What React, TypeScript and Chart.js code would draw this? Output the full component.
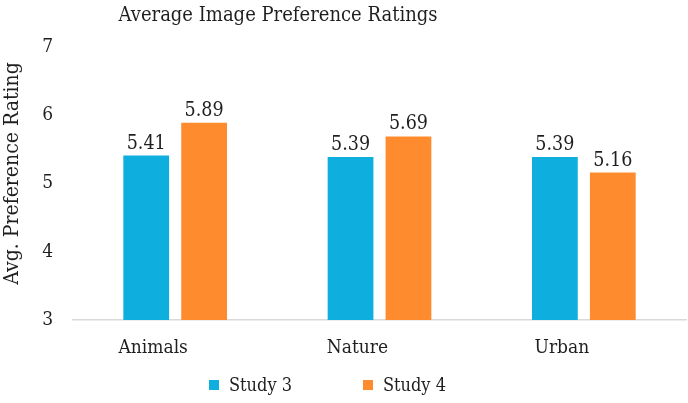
import React, { useEffect, useRef } from "react";
import { Chart, registerables } from "chart.js";

Chart.register(...registerables);

const TITLE = "Average Image Preference Ratings";
const Y_TITLE = "Avg. Preference Rating";
const categories = ["Animals", "Nature", "Urban"];
const study3 = [5.41, 5.39, 5.39];
const study4 = [5.89, 5.69, 5.16];
const seriesLabels = ["Study 3", "Study 4"];
const seriesColors = ["#0EAFDF", "#FE8B2D"];
const Y_MIN = 3;
const Y_MAX = 7;

const FONT = "'DejaVu Serif Condensed', 'Liberation Serif', serif";
const TEXT = "#1f1f1f";

const overlayPlugin = {
  id: "overlay",
  afterDatasetsDraw(chart: any) {
    const ctx = chart.ctx;
    ctx.save();
    // data labels
    ctx.fillStyle = TEXT;
    ctx.textAlign = "center";
    ctx.textBaseline = "alphabetic";
    chart.data.datasets.forEach((ds: any, di: number) => {
      const meta = chart.getDatasetMeta(di);
      meta.data.forEach((bar: any, i: number) => {
        ctx.font = `19.5px ${FONT}`;
        ctx.fillText(Number(ds.data[i]).toFixed(2), bar.x, bar.y - 7);
      });
    });
    // title
    ctx.font = `20px ${FONT}`;
    ctx.textAlign = "center";
    ctx.fillText(TITLE, 278, 21);
    // legend
    ctx.textAlign = "left";
    ctx.textBaseline = "middle";
    let x = 209;
    const y = 385;
    chart.data.datasets.forEach((ds: any) => {
      ctx.fillStyle = ds.backgroundColor;
      ctx.fillRect(x, y - 5, 10, 10);
      ctx.fillStyle = TEXT;
      ctx.font = `18px ${FONT}`;
      ctx.fillText(ds.label, x + 20, y + 1);
      x += 20 + ctx.measureText(ds.label).width + 71;
    });
    // y-axis title
    const area = chart.chartArea;
    ctx.save();
    ctx.translate(13, (area.top + area.bottom) / 2 - 10);
    ctx.rotate(-Math.PI / 2);
    ctx.textAlign = "center";
    ctx.textBaseline = "middle";
    ctx.font = `21px ${FONT}`;
    ctx.fillStyle = TEXT;
    ctx.fillText(Y_TITLE, 0, 0);
    ctx.restore();
    ctx.restore();
  },
};

export default function App() {
  const ref = useRef<HTMLCanvasElement>(null);
  useEffect(() => {
    document.body.style.margin = "0";
    const chart = new Chart(ref.current!, {
      type: "bar",
      data: {
        labels: categories,
        datasets: [
          { label: seriesLabels[0], data: study3, backgroundColor: seriesColors[0] },
          { label: seriesLabels[1], data: study4, backgroundColor: seriesColors[1] },
        ],
      },
      options: {
        animation: false,
        responsive: false,
        devicePixelRatio: 1,
        layout: { padding: { top: 47, right: 2, left: 0, bottom: 0 } },
        datasets: { bar: { categoryPercentage: 0.567, barPercentage: 0.79 } },
        plugins: {
          legend: { display: false },
          title: { display: false },
          tooltip: { enabled: false },
        },
        scales: {
          x: {
            grid: { display: false, drawTicks: false },
            border: { display: true, color: "#D9D9D9", width: 1.5 },
            ticks: { font: { family: FONT, size: 19 }, color: TEXT, padding: 17, labelOffset: -22 },
            afterFit(scale: any) {
              scale.height = 83;
            },
          },
          y: {
            min: Y_MIN,
            max: Y_MAX,
            grid: { display: false, drawTicks: false },
            border: { display: false },
            ticks: { stepSize: 1, font: { family: FONT, size: 19 }, color: TEXT, padding: 20 },
            title: { display: false },
            afterFit(scale: any) {
              scale.width = 73;
            },
          },
        },
      },
      plugins: [overlayPlugin],
    });
    return () => chart.destroy();
  }, []);
  return (
    <div style={{ position: "absolute", left: 0, top: 0, width: 688, height: 403, background: "#fff" }}>
      <canvas ref={ref} width={688} height={403} style={{ display: "block" }} />
    </div>
  );
}
